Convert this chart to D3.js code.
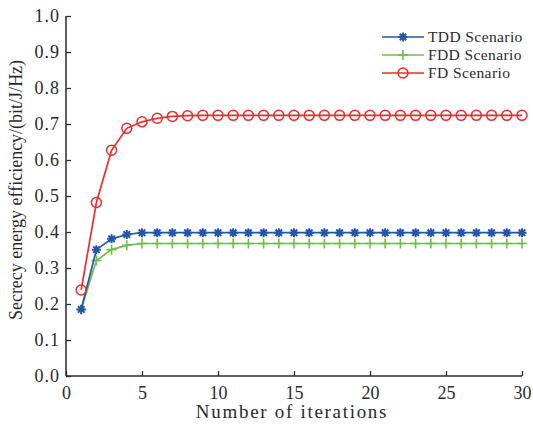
<!DOCTYPE html>
<html><head><meta charset="utf-8">
<script src="https://cdn.jsdelivr.net/npm/d3@7"></script>
<style>body{margin:0;background:#fff}</style>
</head><body>
<svg id="c" width="533" height="429"></svg>
<script>
const iterations = d3.range(1, 31);
const tddValues = [0.185,0.351,0.381,0.393,0.398,0.398,0.398,0.398,0.398,0.398,0.398,0.398,0.398,0.398,0.398,0.398,0.398,0.398,0.398,0.398,0.398,0.398,0.398,0.398,0.398,0.398,0.398,0.398,0.398,0.398];
const fddValues = [0.185,0.321,0.351,0.363,0.368,0.368,0.368,0.368,0.368,0.368,0.368,0.368,0.368,0.368,0.368,0.368,0.368,0.368,0.368,0.368,0.368,0.368,0.368,0.368,0.368,0.368,0.368,0.368,0.368,0.368];
const fdValues  = [0.239,0.482,0.627,0.688,0.706,0.716,0.721,0.723,0.724,0.724,0.724,0.724,0.724,0.724,0.724,0.724,0.724,0.724,0.724,0.724,0.724,0.724,0.724,0.724,0.724,0.724,0.724,0.724,0.724,0.724];
const seriesNames = ["TDD Scenario","FDD Scenario","FD Scenario"];
const xTicks = [0,5,10,15,20,25,30];
const yTicks = [0,0.1,0.2,0.3,0.4,0.5,0.6,0.7,0.8,0.9,1.0];
const xLabel = "Number of iterations";
const yLabel = "Secrecy energy efficiency/(bit/J/Hz)";

const series = [
  {name: seriesNames[0], values: tddValues, color: "#2356a8", marker: "star"},
  {name: seriesNames[1], values: fddValues, color: "#6cbf4a", marker: "plus"},
  {name: seriesNames[2], values: fdValues,  color: "#ee2b2b", marker: "circle"}
];

const svg = d3.select("#c");
const L = 66, R = 522, T = 16, B = 376;
const x = d3.scaleLinear().domain([0,30]).range([L,R]);
const y = d3.scaleLinear().domain([0,1]).range([B,T]);
const font = "'Liberation Serif','Times New Roman',serif";
const ink = "#2a2a2a";

// axes
const xAxis = svg.append("g").attr("transform",`translate(0,${B})`)
  .call(d3.axisBottom(x).tickValues(xTicks).tickSize(-5).tickPadding(10).tickFormat(d3.format("d")));
const yAxis = svg.append("g").attr("transform",`translate(${L},0)`)
  .call(d3.axisLeft(y).tickValues(yTicks).tickSize(-5).tickPadding(6).tickFormat(d3.format(".1f")));
[xAxis,yAxis].forEach(a=>{
  a.attr("font-family",font);
  a.select(".domain").attr("stroke",ink).attr("stroke-width",1.5);
  a.selectAll(".tick line").attr("stroke",ink).attr("stroke-width",1.3);
  a.selectAll("text").attr("font-family",font).attr("font-size",18).attr("fill",ink);
});
yAxis.selectAll("text").attr("letter-spacing",1);
xAxis.select(".domain").attr("d",`M${L},0H${R}`);
yAxis.select(".domain").attr("d",`M0,${B}V${T}`);

svg.append("text").attr("x",292).attr("y",418).attr("text-anchor","middle")
  .attr("font-family",font).attr("font-size",19).attr("letter-spacing",1.7).attr("fill",ink).text(xLabel);
svg.append("text").attr("transform",`translate(22,190) rotate(-90)`).attr("text-anchor","middle")
  .attr("font-family",font).attr("font-size",18).attr("fill",ink).text(yLabel);

function drawMarker(g, type, color, cx, cy){
  if(type==="circle"){
    g.append("circle").attr("cx",cx).attr("cy",cy).attr("r",5).attr("fill","none").attr("stroke",color).attr("stroke-width",1.5);
  } else if(type==="plus"){
    g.append("path").attr("d",`M${cx-5},${cy}H${cx+5}M${cx},${cy-5}V${cy+5}`).attr("stroke",color).attr("stroke-width",1.6).attr("fill","none");
  } else {
    const r=4.5, d=r*0.72;
    g.append("path").attr("d",`M${cx-r},${cy}H${cx+r}M${cx},${cy-r}V${cy+r}M${cx-d},${cy-d}L${cx+d},${cy+d}M${cx-d},${cy+d}L${cx+d},${cy-d}`)
      .attr("stroke",color).attr("stroke-width",2).attr("fill","none");
  }
}

const line = d3.line().x((d,i)=>x(iterations[i])).y(d=>y(d));
[series[1],series[0],series[2]].forEach(s=>{
  const g = svg.append("g");
  g.append("path").attr("d",line(s.values)).attr("fill","none").attr("stroke",s.color).attr("stroke-width",1.7);
  s.values.forEach((v,i)=>drawMarker(g,s.marker,s.color,x(iterations[i]),y(v)));
});

// legend
const lg = svg.append("g");
series.forEach((s,i)=>{
  const yy = 37 + i*18;
  lg.append("line").attr("x1",382).attr("x2",424).attr("y1",yy).attr("y2",yy).attr("stroke",s.color).attr("stroke-width",1.7);
  drawMarker(lg,s.marker,s.color,403,yy);
  lg.append("text").attr("x",428).attr("y",yy+5).attr("font-family",font).attr("font-size",15.5)
    .attr("letter-spacing",0.4).attr("fill",ink).text(s.name);
});
</script>
</body></html>
